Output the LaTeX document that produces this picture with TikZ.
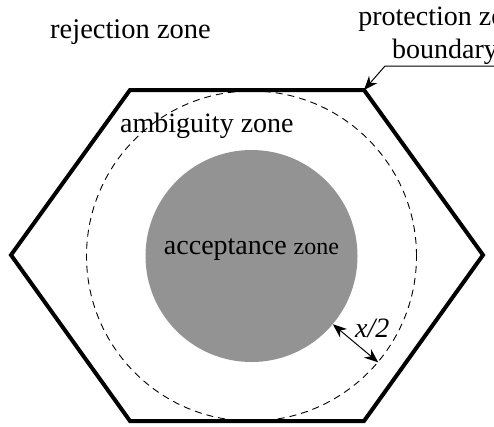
\documentclass[tikz,border=0pt]{standalone}
\usepackage{fontspec}
\setmainfont{Liberation Serif}
\usetikzlibrary{positioning, arrows.meta, calc}
\definecolor{acceptgray}{RGB}{147,147,147}

\begin{document}
\begin{tikzpicture}[x=1bp, y=-1bp, >={Stealth[length=14bp, width=11bp]},
    zonetext/.style={inner sep=0pt, font=\fontsize{28bp}{33bp}\selectfont}]
        \useasboundingbox (0,0) rectangle (494,426);
        \clip (0,0) rectangle (494,426);

        % protection zone boundary
        \coordinate (h1) at (130,90);
        \coordinate (h2) at (364,90);
        \coordinate (h3) at (483,255);
        \coordinate (h4) at (364,421);
        \coordinate (h5) at (130,421);
        \coordinate (h6) at (11,255);
        \draw[line width=4bp, line join=miter] (h1) -- (h2) -- (h3) -- (h4) -- (h5) -- (h6) -- cycle;

        \node[circle, draw, dash pattern=on 7bp off 5bp, line width=0.9bp, minimum size=330bp, inner sep=0pt] (ambc) at (251.5,256) {};
        \node[circle, fill=acceptgray, minimum size=212bp, inner sep=0pt] (acc) at (251.5,256) {};

        \node[zonetext, font=\fontsize{28.5bp}{34bp}\selectfont, anchor=base west] (rej) at (50,38) {rejection zone};
        \node[zonetext, anchor=base west] (amb) at (120,132) {ambiguity zone};
        \node[zonetext, anchor=base] (acclbl) at (251.5,254) {acceptance {\fontsize{24bp}{28bp}\selectfont zone}};
        \node[zonetext, anchor=base] (prot) at (445,25) {protection zone};
        \node[zonetext, anchor=base] (bnd) at (445,58) {boundary};

        \coordinate (knee) at (385,66);
        \draw[->, line width=1bp] (bnd.east |- knee) -- (knee) -- (h2);

        \draw[<->, line width=1bp] (acc.-40) -- (ambc.-40);
        \node[zonetext, font=\fontsize{28bp}{33bp}\itshape, anchor=base west] (half) at (355,337) {x/2};
      \end{tikzpicture}
\end{document}
